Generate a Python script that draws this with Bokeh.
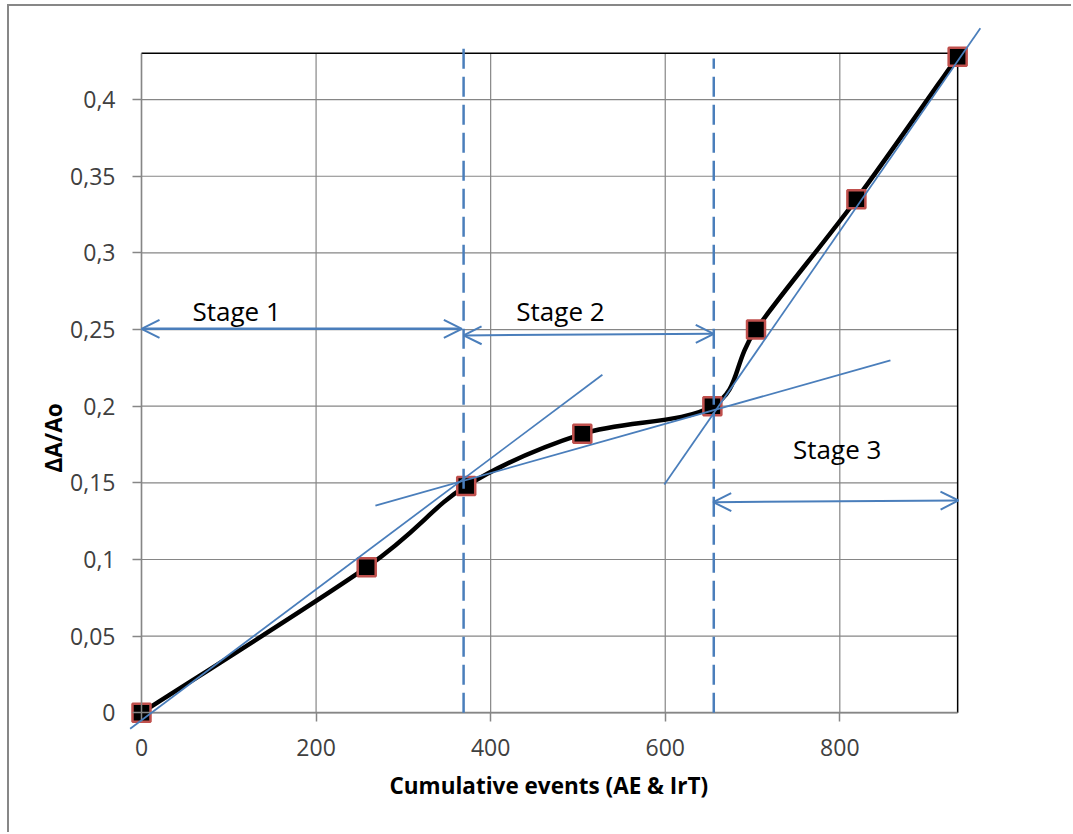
import numpy as np
from bokeh.plotting import figure
from bokeh.models import (Arrow, OpenHead, Label, FixedTicker, Range1d,
                          ColumnDataSource, Title)
from bokeh.embed import file_html
from bokeh.resources import INLINE

# ---------------- data ----------------
events = [0, 258, 372, 505, 654, 704, 819, 935]
delta_a = [0, 0.095, 0.148, 0.182, 0.200, 0.250, 0.335, 0.428]

x_ticks = [0, 200, 400, 600, 800]
y_ticks = [0, 0.05, 0.1, 0.15, 0.2, 0.25, 0.3, 0.35, 0.4]
y_tick_labels = ["0", "0,05", "0,1", "0,15", "0,2", "0,25", "0,3", "0,35", "0,4"]
x_max = 935
y_max = 0.4303

x_title = "Cumulative events (AE & IrT)"
y_title = "ΔA/Ao"

# stage boundaries (dashed verticals)
stage_bound_x = [369, 655.6]
stage_bound_top = [0.4375, 0.4268]

# tangent lines (start / end)
tan_x0 = [-13, 268, 599]
tan_y0 = [-0.0104, 0.1352, 0.1489]
tan_x1 = [528, 858, 961]
tan_y1 = [0.2205, 0.2299, 0.4466]

# stage arrows
arr_x0 = [0, 369, 655]
arr_y0 = [0.2505, 0.2462, 0.1374]
arr_x1 = [367, 655.6, 936]
arr_y1 = [0.2505, 0.2472, 0.1385]
arr_w = [2.5, 2.0, 2.0]

stage_names = ["Stage 1", "Stage 2", "Stage 3"]
stage_lx = [109, 480, 797]
stage_ly = [0.2624, 0.2618, 0.1718]

# ---------------- styling ----------------
FONT = "Open Sans"
BLUE = "#4A7EBB"
GRID = "#868686"

p = figure(width=1064, height=828, output_backend="svg", toolbar_location=None,
           x_range=Range1d(-85.92, 966.9), y_range=Range1d(-0.03699, 0.4503),
           min_border_left=57, min_border_right=88, min_border_top=16,
           min_border_bottom=65, background_fill_color="white",
           border_fill_color="white")
p.styles = {"margin-left": "7px", "margin-top": "4px",
            "border-left": "2px solid #878787", "border-top": "2px solid #878787"}
p.outline_line_color = None
p.grid.visible = False

for ax in (p.xaxis[0], p.yaxis[0]):
    ax.axis_line_color = GRID
    ax.axis_line_width = 1.5
    ax.major_tick_line_color = GRID
    ax.major_tick_line_width = 1.5
    ax.major_tick_in = 0
    ax.major_tick_out = 9
    ax.minor_tick_line_color = None
    ax.major_label_text_font = FONT
    ax.major_label_text_font_size = "23px"
    ax.major_label_text_color = "#404040"
    ax.fixed_location = 0

p.xaxis.ticker = FixedTicker(ticks=x_ticks)
p.yaxis.ticker = FixedTicker(ticks=y_ticks)
p.yaxis.major_label_overrides = {t: l for t, l in zip(y_ticks, y_tick_labels)}
p.xaxis.bounds = (0, x_max)
p.yaxis.bounds = (0, y_max)
p.xaxis.major_label_standoff = 17
p.yaxis.major_label_standoff = 17

# axis titles as side-panel titles
p.add_layout(Title(text=y_title, align="left", offset=297, vertical_align="bottom",
                   standoff=-4, text_font=FONT, text_font_size="22.5px",
                   text_font_style="bold", text_color="black"), "left")
p.add_layout(Title(text=x_title, align="left", offset=323, vertical_align="top",
                   standoff=0, text_font=FONT, text_font_size="22.5px",
                   text_font_style="bold", text_color="black"), "below")

# grid lines
p.segment(x0=x_ticks, y0=[0] * len(x_ticks), x1=x_ticks, y1=[y_max] * len(x_ticks),
          line_color=GRID, line_width=1.2)
p.segment(x0=[0] * len(y_ticks), y0=y_ticks, x1=[x_max] * len(y_ticks), y1=y_ticks,
          line_color=GRID, line_width=1.2)
# black top / right plot-area borders
p.segment(x0=[0, x_max], y0=[y_max, 0], x1=[x_max, x_max], y1=[y_max, y_max],
          line_color="black", line_width=1.5)

# dashed stage boundaries
for bx, bt in zip(stage_bound_x, stage_bound_top):
    p.add_layout(Arrow(x_start=bx, y_start=0, x_end=bx, y_end=bt, end=None,
                       line_color=BLUE, line_width=2.5, line_dash="20 8"))

# tangent lines
for a, b, c, d in zip(tan_x0, tan_y0, tan_x1, tan_y1):
    p.add_layout(Arrow(x_start=a, y_start=b, x_end=c, y_end=d, end=None,
                       line_color=BLUE, line_width=1.75))

# stage arrows
for a, b, c, d, w in zip(arr_x0, arr_y0, arr_x1, arr_y1, arr_w):
    p.add_layout(Arrow(x_start=a, y_start=b, x_end=c, y_end=d,
                       start=OpenHead(size=18, line_color=BLUE, line_width=2),
                       end=OpenHead(size=18, line_color=BLUE, line_width=2),
                       line_color=BLUE, line_width=w))

# smooth curve (Bezier through data points)
xs = np.array(events, float)
ys = np.array(delta_a, float)
xp = np.concatenate([[xs[0]], xs, [xs[-1]]])
yp = np.concatenate([[ys[0]], ys, [ys[-1]]])
n = len(xs)
seg = dict(x0=xs[:-1], y0=ys[:-1], x1=xs[1:], y1=ys[1:],
           cx0=xs[:-1] + (xp[2:n + 1] - xp[0:n - 1]) / 6,
           cy0=ys[:-1] + (yp[2:n + 1] - yp[0:n - 1]) / 6,
           cx1=xs[1:] - (xp[3:n + 2] - xp[1:n]) / 6,
           cy1=ys[1:] - (yp[3:n + 2] - yp[1:n]) / 6)
p.bezier(x0="x0", y0="y0", x1="x1", y1="y1", cx0="cx0", cy0="cy0",
         cx1="cx1", cy1="cy1", source=ColumnDataSource(seg),
         line_color="black", line_width=4.5)

p.scatter(events, delta_a, marker="square", size=18, fill_color="black",
          line_color="#C0504D", line_width=2.5)

for t, lx, ly in zip(stage_names, stage_lx, stage_ly):
    p.add_layout(Label(x=lx, y=ly, text=t, text_align="center",
                       text_baseline="middle", text_font=FONT,
                       text_font_size="26px", text_color="black"))

open("out.html", "w").write(file_html(p, INLINE))
